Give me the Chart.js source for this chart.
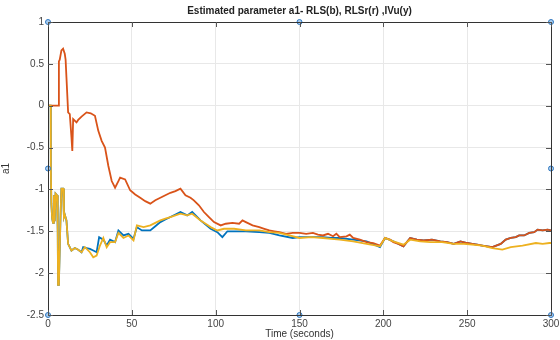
<!DOCTYPE html>
<html>
<head>
<meta charset="utf-8">
<script src="https://cdn.jsdelivr.net/npm/chart.js@4.4.1/dist/chart.umd.min.js"></script>
<style>
  html,body{margin:0;padding:0;background:#fff;}
  #wrap{width:560px;height:340px;position:relative;}
</style>
</head>
<body>
<div id="wrap"><canvas id="c"></canvas></div>
<script>
// Data
const yTicks = [1, 0.5, 0, -0.5, -1, -1.5, -2, -2.5];
const xTicks = [0, 50, 100, 150, 200, 250, 300];

// RLSr (orange)
const tR = [0,6,6.5,7,8,9,10,10.5,11,12,13,14,14.5,15,17,18,20,23,25.5,28,30,32,34,36,38,40,42,43,46,49,52,55,58,61,64,67,70,73,76,79,82,85,87,90,93,96,99,103,106,110,114,116,118,122,126,129,132,135,138,142,146,150,154,158,161,164,167,170,172,174,178,180,182,186,190,194,198,201,204,206,209,212,216,220,224,229,234,238,242,246,250,253,256,259,262,265,270,273,276,279,281,284,287,290,292,295,298,300];
const vR = [0,0,0.53,0.55,0.66,0.68,0.62,0.55,0.34,-0.08,-0.1,-0.38,-0.54,-0.16,-0.2,-0.17,-0.13,-0.08,-0.09,-0.12,-0.3,-0.42,-0.5,-0.72,-0.9,-0.98,-0.9,-0.86,-0.88,-1.01,-1.06,-1.1,-1.14,-1.17,-1.13,-1.1,-1.07,-1.04,-1.02,-0.99,-1.07,-1.1,-1.13,-1.19,-1.27,-1.33,-1.39,-1.43,-1.41,-1.4,-1.41,-1.37,-1.39,-1.43,-1.45,-1.47,-1.49,-1.5,-1.51,-1.53,-1.52,-1.52,-1.53,-1.52,-1.54,-1.55,-1.53,-1.56,-1.53,-1.57,-1.56,-1.54,-1.58,-1.6,-1.63,-1.64,-1.67,-1.58,-1.6,-1.63,-1.65,-1.68,-1.58,-1.6,-1.61,-1.6,-1.62,-1.63,-1.65,-1.62,-1.64,-1.65,-1.66,-1.67,-1.68,-1.69,-1.65,-1.6,-1.58,-1.57,-1.55,-1.55,-1.52,-1.51,-1.48,-1.49,-1.48,-1.49];

// IVu (yellow)
const tY = [0,1.6,1.7,2,2.5,3,3.5,4,4.5,5.4,5.8,6,6.5,7.5,8,9,9.5,10,11,12,14,16,18,20,22,25,27,29,31,33,35,37,40,42,45,48,51,53,57,61,64,67,70,73,76,79,83,86,91,94,97,101,105,111,118,126,132,138,144,150,157,164,169,174,182,190,198,201,206,212,216,222,228,235,242,248,253,259,265,271,276,283,291,295,299,300];
const vY = [0,0,-0.77,-1.17,-1.35,-1.4,-1.07,-1.38,-1.05,-1.07,-1.5,-2.14,-2.12,-1.3,-0.99,-0.99,-1.33,-1.3,-1.37,-1.65,-1.73,-1.7,-1.72,-1.75,-1.69,-1.75,-1.81,-1.79,-1.67,-1.58,-1.69,-1.63,-1.63,-1.52,-1.58,-1.55,-1.61,-1.43,-1.45,-1.43,-1.4,-1.37,-1.35,-1.33,-1.31,-1.29,-1.31,-1.29,-1.37,-1.41,-1.45,-1.49,-1.47,-1.47,-1.49,-1.49,-1.51,-1.52,-1.55,-1.58,-1.57,-1.58,-1.59,-1.6,-1.62,-1.65,-1.68,-1.58,-1.62,-1.66,-1.6,-1.62,-1.63,-1.63,-1.65,-1.65,-1.66,-1.67,-1.7,-1.72,-1.69,-1.67,-1.64,-1.65,-1.64,-1.64];

// RLS (blue)
const tB = [0,1.6,1.7,2,2.5,3,3.5,4,4.5,5.4,5.8,6,6.5,7.5,8,9,9.5,10,11,12,14,16,18,20,21,23,25,27,29,30.5,33,35,37,40,42,45,48,51,53,56,61,64,67,70,73,76,79,83,86,91,94,97,101,104,107,111,118,126,132,138,146,150,157,164,169,174,182,190,198,201,206,212,216,220,224,229,234,238,242,246,250,253,256,259,262,265,270,273,276,279,281,284,287,290,292,295,298,300];
const vB = [0,0,-0.77,-1.17,-1.35,-1.4,-1.07,-1.38,-1.05,-1.07,-1.5,-2.14,-2.12,-1.3,-0.99,-0.99,-1.33,-1.3,-1.37,-1.65,-1.73,-1.7,-1.72,-1.75,-1.69,-1.7,-1.71,-1.73,-1.75,-1.57,-1.6,-1.67,-1.6,-1.63,-1.49,-1.55,-1.53,-1.59,-1.45,-1.49,-1.49,-1.44,-1.39,-1.36,-1.33,-1.3,-1.27,-1.31,-1.27,-1.37,-1.42,-1.47,-1.51,-1.57,-1.5,-1.5,-1.5,-1.51,-1.52,-1.55,-1.58,-1.57,-1.57,-1.57,-1.58,-1.58,-1.6,-1.62,-1.69,-1.58,-1.62,-1.68,-1.58,-1.6,-1.61,-1.6,-1.62,-1.63,-1.65,-1.62,-1.64,-1.65,-1.66,-1.67,-1.68,-1.69,-1.65,-1.6,-1.58,-1.57,-1.55,-1.55,-1.52,-1.51,-1.48,-1.49,-1.48,-1.49];

// figure edit handles (blue dots on the axes box)
const handleX = [0, 150, 300, 0, 300, 0, 150, 300];
const handleY = [1, 1, 1, -0.75, -0.75, -2.5, -2.5, -2.5];

const pts = (t, v) => t.map((x, i) => ({x, y: v[i]}));
const FONT = '"Liberation Sans", Arial, sans-serif';

// box on top/right with inward ticks (MATLAB style)
const boxPlugin = {
  id: 'box',
  afterDatasetsDraw(chart){
    const {ctx, chartArea:a, scales:{x, y}} = chart;
    ctx.save();
    ctx.strokeStyle = '#333'; ctx.lineWidth = 1;
    ctx.beginPath();
    ctx.rect(a.left + .5, a.top + .5, a.right - a.left, a.bottom - a.top);
    ctx.stroke();
    ctx.strokeStyle = '#555';
    ctx.beginPath();
    xTicks.forEach(v=>{
      const px = Math.round(x.getPixelForValue(v)) + .5;
      ctx.moveTo(px, a.bottom); ctx.lineTo(px, a.bottom - 5);
      ctx.moveTo(px, a.top); ctx.lineTo(px, a.top + 5);
    });
    yTicks.forEach(v=>{
      const py = Math.round(y.getPixelForValue(v)) + .5;
      ctx.moveTo(a.left, py); ctx.lineTo(a.left + 5, py);
      ctx.moveTo(a.right, py); ctx.lineTo(a.right - 5, py);
    });
    ctx.stroke();
    ctx.restore();
  }
};

new Chart(document.getElementById('c'), {
  type: 'line',
  data: {
    datasets: [
      {label:'handles', type:'scatter', data: pts(handleX, handleY), pointRadius: 2.5,
       pointBackgroundColor:'#a9cdf0', pointBorderColor:'#2f77bf', pointBorderWidth: 1, order: 0, clip: false},
      {label:'IVu', data: pts(tY, vY), borderColor:'#EDB120', borderWidth: 1.8, pointRadius: 0, tension: 0, order: 1},
      {label:'RLSr', data: pts(tR, vR), borderColor:'#D95319', borderWidth: 1.8, pointRadius: 0, tension: 0, order: 2},
      {label:'RLS', data: pts(tB, vB), borderColor:'#0072BD', borderWidth: 1.8, pointRadius: 0, tension: 0, order: 3}
    ]
  },
  options: {
    responsive: true, maintainAspectRatio: false, animation: false,
    layout: {padding: {top: 1, right: 0, left: 0, bottom: 0}},
    scales: {
      x: {
        type: 'linear', min: 0, max: 300,
        afterBuildTicks: s => { s.ticks = xTicks.map(v => ({value: v})); },
        afterFit: s => { s.height = 25; s.paddingRight = 9; },
        grid: {color: '#e8e8e8', drawTicks: false},
        border: {display: false},
        ticks: {color: '#444', font: {family: FONT, size: 10}, padding: 3, maxRotation: 0, callback: v => String(v)},
        title: {display: true, text: 'Time (seconds)', color: '#333', font: {family: FONT, size: 10}, padding: {top: -2, bottom: 0}}
      },
      y: {
        min: -2.5, max: 1,
        afterBuildTicks: s => { s.ticks = yTicks.map(v => ({value: v})); },
        afterFit: s => { s.width = 48; },
        grid: {color: '#e8e8e8', drawTicks: false},
        border: {display: false},
        ticks: {color: '#444', font: {family: FONT, size: 10}, padding: 4, callback: v => String(v)},
        title: {display: true, text: 'a1', color: '#333', font: {family: FONT, size: 10}, padding: {top: 0, bottom: 0}}
      }
    },
    plugins: {
      legend: {display: false},
      tooltip: {enabled: false},
      title: {
        display: true, fullSize: false,
        text: 'Estimated parameter a1- RLS(b), RLSr(r) ,IVu(y)',
        color: '#222', font: {family: FONT, size: 10, weight: 'bold'},
        padding: {top: 4, bottom: 5}
      }
    }
  },
  plugins: [boxPlugin]
});
</script>
</body>
</html>
